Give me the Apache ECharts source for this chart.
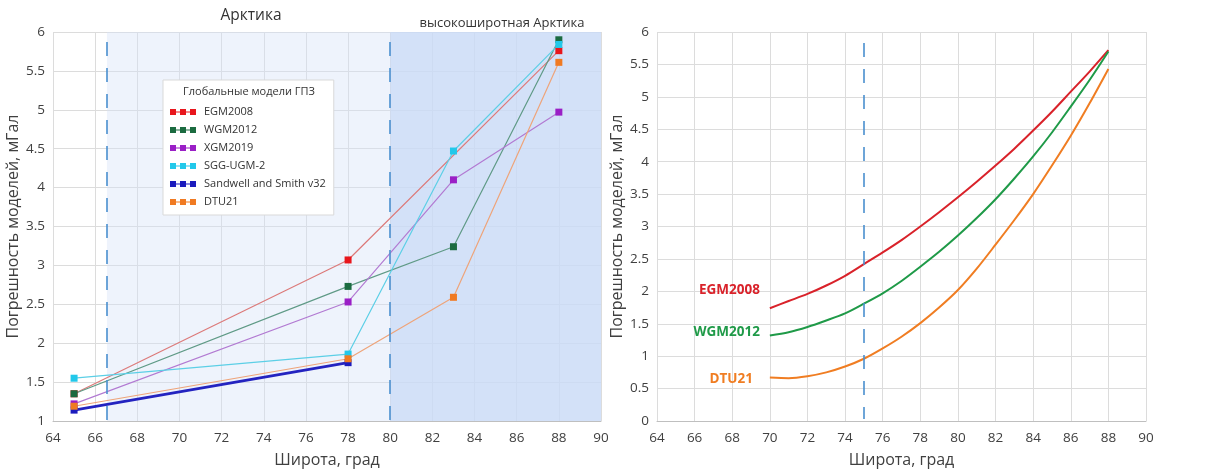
<!DOCTYPE html>
<html>
<head>
<meta charset="utf-8">
<script src="https://cdn.jsdelivr.net/npm/echarts@6/dist/echarts.min.js"></script>
<style>
  html, body { margin: 0; padding: 0; background: #fff; }
  #chart { width: 1225px; height: 473px; }
</style>
</head>
<body>
<div id="chart"></div>
<script>
// Left panel: model errors at sample latitudes (null = no estimate)
const latLeft = [65, 78, 83, 88];
const egm2008 = [1.35, 3.07, null, 5.76];
const wgm2012 = [1.35, 2.73, 3.24, 5.90];
const xgm2019 = [1.22, 2.53, 4.10, 4.97];
const sggUgm2 = [1.55, 1.86, 4.47, 5.84];
const sandwellSmith = [1.14, 1.75, null, null];
const dtu21 = [1.19, 1.80, 2.59, 5.61];

// Zone boundaries: Arctic circle and high-latitude Arctic
const arcticCircle = 66.56;
const highArctic = 80;

// Right panel: fitted error curves, one value per degree from 70 to 88
const latRight = [70, 71, 72, 73, 74, 75, 76, 77, 78, 79, 80, 81, 82, 83, 84, 85, 86, 87, 88];
const egmCurve = [1.74, 1.85, 1.96, 2.09, 2.24, 2.42, 2.60, 2.79, 3.00, 3.22, 3.45, 3.69, 3.94, 4.20, 4.48, 4.77, 5.08, 5.39, 5.72];
const wgmCurve = [1.32, 1.37, 1.45, 1.55, 1.66, 1.81, 1.97, 2.16, 2.38, 2.61, 2.86, 3.13, 3.42, 3.74, 4.08, 4.45, 4.85, 5.26, 5.70];
const dtuCurve = [0.67, 0.66, 0.69, 0.75, 0.84, 0.96, 1.12, 1.30, 1.51, 1.75, 2.02, 2.35, 2.72, 3.10, 3.50, 3.94, 4.40, 4.90, 5.43];
const rightMarker = 75;

const xTicks = { min: 64, max: 90, interval: 2 };

const FONT = '"Open Sans", "Noto Sans", sans-serif';
const gridLine = { show: true, lineStyle: { color: '#dcdcdc', width: 1 } };
const axisLabel = { color: '#404040', fontSize: 13.5, fontFamily: FONT, margin: 10 };
const nameStyle = { color: '#404040', fontSize: 16, fontFamily: FONT };

function pairs(xs, ys) {
  return xs.map((x, i) => [x, ys[i]]);
}

const legendIcon = 'path://M0,0h6v6h-6z M10,0h6v6h-6z M20,0h6v6h-6z M6,2.5h4v1h-4z M16,2.5h4v1h-4z';

function leftSeries(name, values, marker, line, width) {
  return {
    name, type: 'line', xAxisIndex: 0, yAxisIndex: 0,
    data: pairs(latLeft, values),
    connectNulls: true,
    symbol: 'rect', symbolSize: 7,
    itemStyle: { color: marker },
    lineStyle: { color: line, width: width || 1.2 },
    z: 3
  };
}

function curveLabel(text, color, offset) {
  return {
    show: true, position: 'left', distance: 10, offset,
    formatter: text, color, fontSize: 13.5, fontWeight: 'bold', fontFamily: FONT
  };
}

function rightSeries(name, ys, color, labelOffset) {
  const data = pairs(latRight, ys).map((p, i) => i === 0
    ? { value: p, label: curveLabel(name, color, labelOffset) }
    : p);
  return {
    name: name + ' curve', type: 'line', xAxisIndex: 1, yAxisIndex: 1,
    data, smooth: 0.3, symbol: 'circle', symbolSize: 0, showSymbol: true,
    lineStyle: { color, width: 2 }, itemStyle: { color },
    label: { show: false }, z: 3
  };
}

const dashStyle = { color: '#4a8fcf', width: 1.6, type: [14, 12] };

const series = [
  leftSeries('EGM2008', egm2008, '#e8161c', '#dc7a7a'),
  leftSeries('WGM2012', wgm2012, '#1b6b40', '#5f9a86'),
  leftSeries('XGM2019', xgm2019, '#9a1fc6', '#b27ad2'),
  leftSeries('SGG-UGM-2', sggUgm2, '#22c8ea', '#5ccfe6'),
  leftSeries('Sandwell and Smith v32', sandwellSmith, '#1b1bbd', '#2323c0', 2.6),
  leftSeries('DTU21', dtu21, '#f07a22', '#eea47a'),
  {
    // shaded zones and their boundaries
    name: 'zones', type: 'line', xAxisIndex: 0, yAxisIndex: 0, data: [], z: 1,
    markArea: {
      silent: true,
      data: [
        [{ xAxis: arcticCircle, itemStyle: { color: 'rgba(213,226,248,0.4)' } }, { xAxis: highArctic }],
        [{ xAxis: highArctic, itemStyle: { color: 'rgba(201,218,246,0.82)' } }, { xAxis: 90 }]
      ]
    },
    markLine: {
      silent: true, symbol: 'none', label: { show: false },
      lineStyle: dashStyle,
      data: [
        [{ coord: [arcticCircle, 5.87] }, { coord: [arcticCircle, 1] }],
        [{ coord: [highArctic, 5.87] }, { coord: [highArctic, 1] }]
      ]
    }
  },
  rightSeries('EGM2008', egmCurve, '#d9222a', [0, -18]),
  rightSeries('WGM2012', wgmCurve, '#1f9a48', [0, -3]),
  rightSeries('DTU21', dtuCurve, '#f07d22', [-7, 2]),
  {
    name: 'marker', type: 'line', xAxisIndex: 1, yAxisIndex: 1, data: [],
    markLine: {
      silent: true, symbol: 'none', label: { show: false },
      lineStyle: dashStyle,
      data: [[{ coord: [rightMarker, 5.83] }, { coord: [rightMarker, 0.03] }]]
    }
  }
];

const chart = echarts.init(document.getElementById('chart'), null, { renderer: 'canvas' });
chart.setOption({
  animation: false,
  backgroundColor: '#fff',
  textStyle: { fontFamily: FONT },
  title: [
    { text: 'Арктика', left: 246, top: 3, textAlign: 'center',
      textStyle: { fontSize: 15.5, fontWeight: 'normal', color: '#333', fontFamily: FONT } },
    { text: 'высокоширотная Арктика', left: 497, top: 12, textAlign: 'center',
      textStyle: { fontSize: 13, fontWeight: 'normal', color: '#333', fontFamily: FONT } }
  ],
  grid: [
    { left: 53, right: 624, top: 32, bottom: 51, containLabel: false },
    { left: 657, right: 79, top: 32, bottom: 52, containLabel: false }
  ],
  xAxis: [0, 1].map(i => ({
    type: 'value', gridIndex: i, ...xTicks,
    name: 'Широта, град', nameLocation: 'middle', nameGap: 31, nameTextStyle: nameStyle,
    axisLine: { show: true, lineStyle: { color: '#bfbfbf' } },
    axisTick: { show: false },
    axisLabel, splitLine: gridLine
  })),
  yAxis: [
    { type: 'value', gridIndex: 0, min: 1, max: 6, interval: 0.5 },
    { type: 'value', gridIndex: 1, min: 0, max: 6, interval: 0.5 }
  ].map(a => ({
    ...a,
    name: 'Погрешность моделей, мГал', nameLocation: 'middle', nameGap: 32, nameTextStyle: nameStyle,
    axisLine: { show: false }, axisTick: { show: false },
    axisLabel: { ...axisLabel, margin: 8 }, splitLine: gridLine
  })),
  legend: {
    data: ['EGM2008', 'WGM2012', 'XGM2019', 'SGG-UGM-2', 'Sandwell and Smith v32', 'DTU21'],
    orient: 'vertical', left: 163, top: 80,
    padding: [25, 8, 6, 7], itemGap: 4,
    itemWidth: 26, itemHeight: 6, icon: legendIcon,
    backgroundColor: '#fff', borderColor: '#d9d9d9', borderWidth: 1,
    textStyle: { fontSize: 11, color: '#333', fontFamily: FONT, lineHeight: 14, padding: [0, 0, 0, 3] },
    selectedMode: false, z: 6
  },
  graphic: [
    { type: 'text', left: 183, top: 86, z: 100,
      style: { text: 'Глобальные модели ГПЗ', fontSize: 11, fill: '#333', fontFamily: FONT } }
  ],
  series
});
</script>
</body>
</html>
